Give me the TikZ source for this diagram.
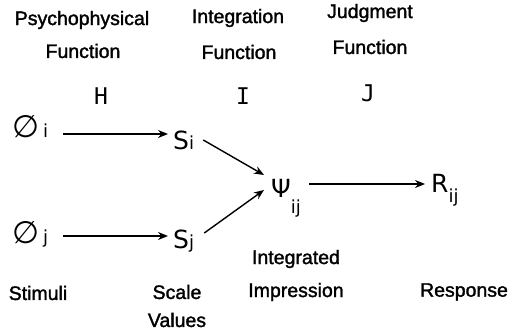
\documentclass[tikz,border=0pt]{standalone}
\usepackage{fontspec}
\setmainfont{Liberation Sans}
\newfontfamily\labf{Liberation Sans}[BoldFont=Liberation Sans, BoldFeatures={FakeBold=1.6}]
\newfontfamily\symf{DejaVu Sans}
\newfontfamily\monof{DejaVu Sans Mono}
\usetikzlibrary{arrows.meta,calc}
\newcommand\subx[2][0pt]{\raisebox{-#1}{\fontsize{18}{18}\selectfont #2}}
\newcommand\emptys{{\fontsize{31}{31}\selectfont ∅}}
\begin{document}
\begin{tikzpicture}[x=1pt,y=-1pt,
 lab/.style={font=\labf\bfseries\fontsize{19.5}{19.5}\selectfont, inner sep=0pt},
 sym/.style={font=\symf\fontsize{25}{25}\selectfont, inner sep=1pt, anchor=base west},
 arr/.style={-{Stealth[length=10pt,width=8pt]}, line width=1.4pt}]
\useasboundingbox (0,0) rectangle (519,331);
% function labels
\node[lab] (pf1) at (82,20) {Psychophysical};
\node[lab] (pf2) at (83,51) {Function};
\node[sym, anchor=center, font=\monof\fontsize{23}{23}\selectfont] (H) at (101,96) {H};
\node[lab] (if1) at (238,18) {Integration};
\node[lab] (if2) at (239,52) {Function};
\node[sym, anchor=center, font=\monof\fontsize{23}{23}\selectfont] (I) at (243,96) {I};
\node[lab] (jf1) at (370,13) {Judgment};
\node[lab] (jf2) at (370,47) {Function};
\node[sym, anchor=center, font=\monof\fontsize{23}{23}\selectfont] (J) at (368,93) {J};
% symbols
\node[sym] (phii) at (11,138) {\emptys\hspace{4pt}\subx{i}};
\node[sym] (Si) at (172,150) {S\subx{i}};
\node[sym] (phij) at (11,243) {\emptys\hspace{4pt}\subx{j}};
\node[sym] (Sj) at (172,248) {S\subx{j}};
\node[sym] (psi) at (270,197) {Ψ\subx[17pt]{ij}};
\node[sym] (R) at (430,193) {R\subx[10pt]{ij}};
% arrows
\draw[arr] ($(phii.base east)+(14,-4)$) -- ($(Si.base west)+(-4,-16)$);
\draw[arr] ($(phij.base east)+(14,-7)$) -- ($(Sj.base west)+(-4,-12)$);
\draw[arr] ($(Si.base east)+(8,-10)$) -- ($(psi.base west)+(-6,-22)$);
\draw[arr] ($(Sj.base east)+(9,-15)$) -- ($(psi.base west)+(-6,-7)$);
\draw[arr] ($(psi.base east)+(7,-13)$) -- ($(R.base west)+(-5,-9)$);
% bottom labels
\node[lab] (st) at (38,293) {Stimuli};
\node[lab] (sc1) at (177,292) {Scale};
\node[lab] (sc2) at (177,320) {Values};
\node[lab] (ii1) at (296,259) {Integrated};
\node[lab] (ii2) at (296,292) {Impression};
\node[lab] (rs) at (464,292) {Response};
\end{tikzpicture}
\end{document}
